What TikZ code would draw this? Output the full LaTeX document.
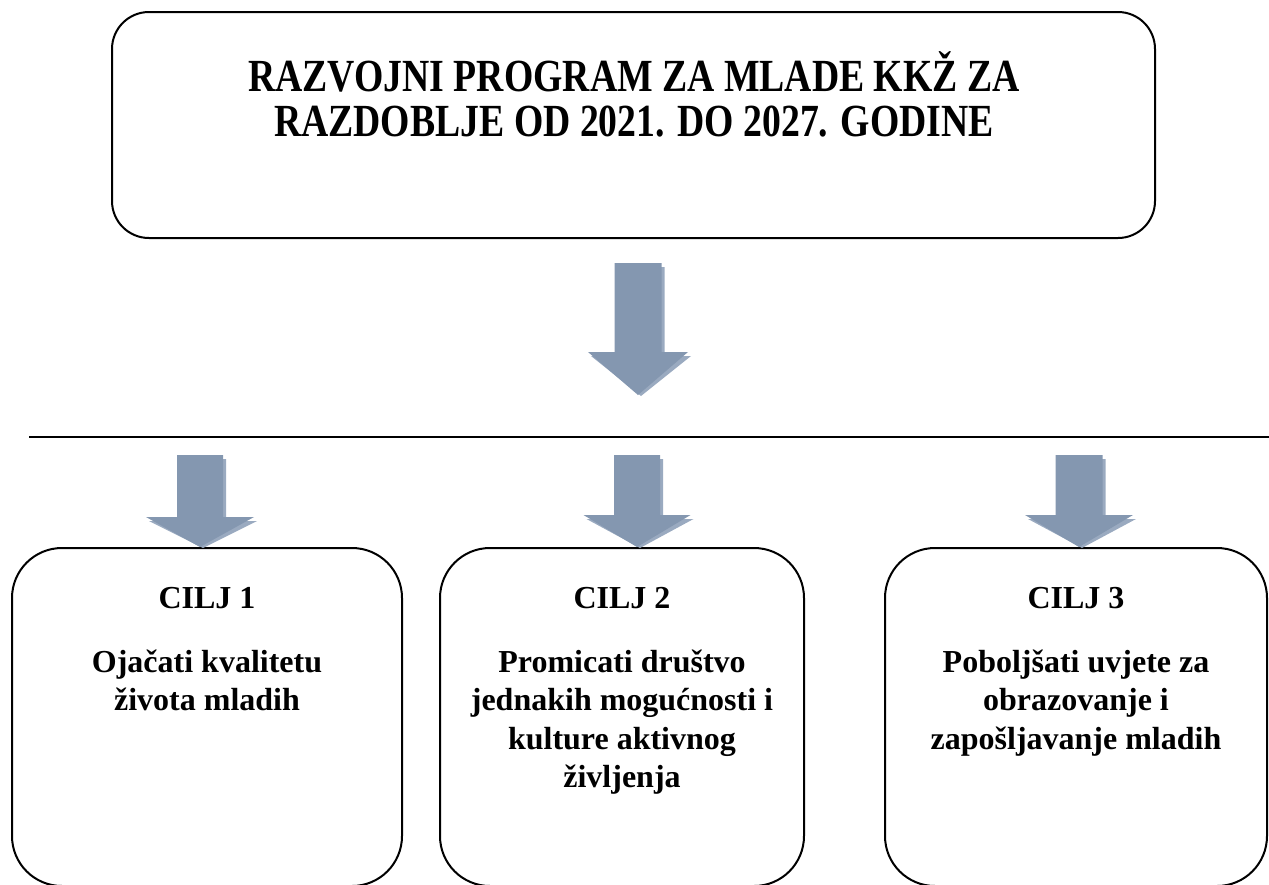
\documentclass[tikz,border=0pt]{standalone}
\usepackage{fontspec}
\setmainfont{Liberation Serif}
\definecolor{arrowfill}{HTML}{8497B0}
\definecolor{arrowshade}{HTML}{9AAAC0}
\tikzset{
  roundbox/.style={draw=black, line width=2pt, fill=white, inner sep=0pt},
  titletext/.style={font=\bfseries\fontsize{46}{46}\selectfont, inner sep=0pt, anchor=base},
  headtext/.style={font=\bfseries\fontsize{32}{38.5}\selectfont, inner sep=0pt, anchor=base},
  bodytext/.style={font=\bfseries\fontsize{32}{38.5}\selectfont, inner sep=0pt, anchor=base, align=center},
}
% block arrow: #1 centre x, #2 top y, #3 head y, #4 tip y, #5 shaft half width, #6 head half width
\newcommand\blockarrow[6]{%
  \fill[arrowshade] ({#1-#5+3},{#2+4}) -- ({#1+#5+3},{#2+4}) -- ({#1+#5+3},{#3+4}) -- ({#1+#6+3},{#3+4})
     -- ({#1+3},{#4+1}) -- ({#1-#6+3},{#3+4}) -- ({#1-#5+3},{#3+4}) -- cycle;
  \fill[arrowfill] ({#1-#5},{#2}) -- ({#1+#5},{#2}) -- ({#1+#5},{#3}) -- ({#1+#6},{#3})
     -- ({#1},{#4}) -- ({#1-#6},{#3}) -- ({#1-#5},{#3}) -- cycle;
}
\begin{document}
\begin{tikzpicture}[x=1pt, y=-1pt]
\useasboundingbox (0,0) rectangle (1269,884);
% top box
\node[roundbox, rounded corners=37pt, minimum width=1043pt, minimum height=226pt] (top) at (633.5,125) {};
\node[titletext] (t1) at (634,91) {\scalebox{0.82}[1]{RAZVOJNI PROGRAM ZA MLADE KKŽ ZA}};
\node[titletext] (t2) at (634,136) {\scalebox{0.82}[1]{RAZDOBLJE OD 2021. DO 2027. GODINE}};
% main arrow
\blockarrow{638}{263}{352}{395}{23.5}{50}
% horizontal line
\coordinate (lineL) at (29,437);
\coordinate (lineR) at (1269,437);
\draw[line width=2pt] (lineL) -- (lineR);
% bottom boxes
\node[roundbox, rounded corners=50pt, minimum width=390pt, minimum height=338pt] (b1) at (207,717) {};
\node[roundbox, rounded corners=50pt, minimum width=364pt, minimum height=338pt] (b2) at (622,717) {};
\node[roundbox, rounded corners=50pt, minimum width=382pt, minimum height=338pt] (b3) at (1076,717) {};
% small arrows
\blockarrow{200}{455}{517}{547}{23}{54}
\blockarrow{637}{455}{515}{547}{23}{53.5}
\blockarrow{1079}{455}{515}{547}{23.5}{54}
% texts (base anchor = baseline of the last line)
\node[headtext] (c1) at (207,608) {CILJ 1};
\node[bodytext] (d1) at (207,710.5) {Ojačati kvalitetu\\života mladih};
\node[headtext] (c2) at (622,608) {CILJ 2};
\node[bodytext] (d2) at (622,787.5) {Promicati društvo\\jednakih mogućnosti i\\kulture aktivnog\\življenja};
\node[headtext] (c3) at (1076,608) {CILJ 3};
\node[bodytext] (d3) at (1076,749) {Poboljšati uvjete za\\obrazovanje i\\zapošljavanje mladih};
\end{tikzpicture}
\end{document}
